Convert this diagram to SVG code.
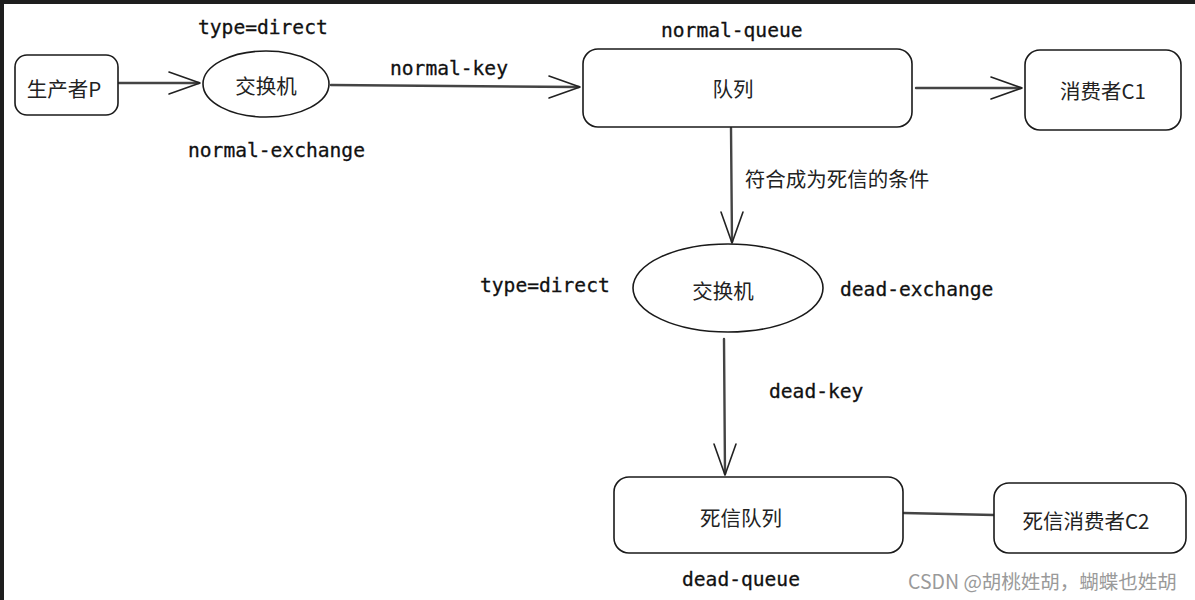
<svg xmlns="http://www.w3.org/2000/svg" width="1195" height="600" viewBox="0 0 1195 600">
<style>
.box{fill:#fff;stroke:#1a1a1a;stroke-width:1.6}
.cn{font-family:"Noto Sans CJK SC","Noto Sans",sans-serif;font-size:20.5px;fill:#222;text-anchor:middle;dominant-baseline:central}
.mono{font-family:"DejaVu Sans Mono","Liberation Mono",monospace;font-size:19.6px;fill:#111;dominant-baseline:central;stroke:#111;stroke-width:0.3}
.ln{fill:none;stroke:#444;stroke-width:2.4;stroke-linecap:round}
.ah{fill:none;stroke:#222;stroke-width:1.6;stroke-linecap:round;stroke-linejoin:round}
.wm{font-family:"Noto Sans CJK SC","Liberation Sans",sans-serif;font-size:19.5px;fill:#9a9a9a;dominant-baseline:central}
</style>
<rect x="0" y="0" width="1195" height="600" fill="#fff"/>
<rect x="0" y="0" width="1195" height="4" fill="#1e1e1e"/>
<rect x="0" y="0" width="4" height="600" fill="#1e1e1e"/>

<g id="connectors">
  <path class="ln" d="M119 83 L199 83"/>
  <path class="ah" d="M169 72 L200 83 L169 94"/>
  <path class="ln" d="M331 85 L579 87"/>
  <path class="ah" d="M549 76 L580 87 L549 98"/>
  <path class="ln" d="M916 88 L1021 88"/>
  <path class="ah" d="M991 77 L1022 88 L991 99"/>
  <path class="ln" d="M731 128 L732 242"/>
  <path class="ah" d="M721 212 L732 243 L743 212"/>
  <path class="ln" d="M724 339 L725 474"/>
  <path class="ah" d="M714 444 L725 475 L736 444"/>
  <path class="ln" d="M904 513 L994 515"/>
</g>

<g id="producer">
  <rect class="box" x="15" y="55" width="103" height="60" rx="12"/>
  <text class="cn" x="64" y="88">生产者P</text>
</g>
<g id="normal-exchange">
  <ellipse class="box" cx="266" cy="84" rx="63" ry="33"/>
  <text class="cn" x="266" y="85">交换机</text>
  <text class="mono" x="198" y="27">type=direct</text>
  <text class="mono" x="188" y="150">normal-exchange</text>
</g>
<text class="mono" x="390" y="68">normal-key</text>
<g id="normal-queue">
  <rect class="box" x="583" y="49" width="329" height="78" rx="15"/>
  <text class="cn" x="733" y="88">队列</text>
  <text class="mono" x="661" y="30">normal-queue</text>
</g>
<g id="consumer1">
  <rect class="box" x="1025" y="50" width="156" height="80" rx="15"/>
  <text class="cn" x="1103" y="90">消费者C1</text>
</g>
<text class="cn" x="837" y="178">符合成为死信的条件</text>
<g id="dead-exchange">
  <ellipse class="box" cx="728" cy="288" rx="95" ry="44"/>
  <text class="cn" x="723" y="290">交换机</text>
  <text class="mono" x="480" y="285">type=direct</text>
  <text class="mono" x="840" y="289">dead-exchange</text>
</g>
<text class="mono" x="769" y="391">dead-key</text>
<g id="dead-queue">
  <rect class="box" x="614" y="477" width="289" height="76" rx="15"/>
  <text class="cn" x="741" y="517">死信队列</text>
  <text class="mono" x="682" y="579">dead-queue</text>
</g>
<g id="consumer2">
  <rect class="box" x="994" y="483" width="192" height="70" rx="15"/>
  <text class="cn" x="1086" y="520">死信消费者C2</text>
</g>
<text class="wm" x="908" y="580">CSDN @胡桃姓胡，蝴蝶也姓胡</text>
</svg>
